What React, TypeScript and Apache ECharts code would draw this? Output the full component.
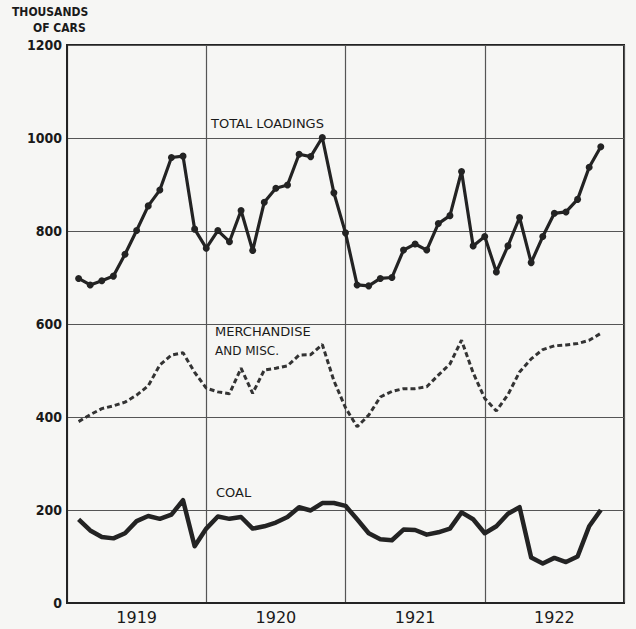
import React, { useEffect, useRef } from "react";
import * as echarts from "echarts";

const months: string[] = [
  "1919-01","1919-02","1919-03","1919-04","1919-05","1919-06","1919-07","1919-08","1919-09","1919-10","1919-11","1919-12",
  "1920-01","1920-02","1920-03","1920-04","1920-05","1920-06","1920-07","1920-08","1920-09","1920-10","1920-11","1920-12",
  "1921-01","1921-02","1921-03","1921-04","1921-05","1921-06","1921-07","1921-08","1921-09","1921-10","1921-11","1921-12",
  "1922-01","1922-02","1922-03","1922-04","1922-05","1922-06","1922-07","1922-08","1922-09","1922-10",
];

const totalLoadings: number[] = [
  698, 684, 693, 703, 750, 801, 854, 888, 958, 961,
  804, 763, 801, 777, 844, 758, 862, 892, 899, 965,
  960, 1001, 882, 796, 684, 682, 698, 700, 759, 772,
  759, 816, 833, 928, 768, 788, 712, 768, 829, 732,
  788, 838, 841, 868, 937, 981,
];

const merchandise: number[] = [
  390, 405, 418, 424, 432, 447, 467, 512, 533, 538,
  496, 462, 454, 450, 505, 451, 501, 505, 510, 533,
  534, 556, 478, 420, 379, 404, 443, 455, 461, 461,
  465, 490, 514, 565, 495, 440, 413, 448, 497, 525,
  545, 553, 555, 558, 565, 580,
];

const coal: number[] = [
  180, 156, 142, 139, 150, 176, 187, 181, 190, 221,
  122, 160, 186, 181, 185, 160, 165, 173, 185, 206,
  199, 215, 215, 209, 180, 150, 137, 135, 158, 157,
  147, 152, 160, 195, 180, 150, 165, 192, 206, 98,
  85, 97, 88, 100, 165, 200,
];

const yearLabels: string[] = ["1919", "1920", "1921", "1922"];
const yTicks = { min: 0, max: 1200, interval: 200 };

const INK = "#232323";
const GRID = "#555";

function toPairs(values: number[]): [number, number][] {
  return values.map((v, i) => [months.indexOf(months[i]) + 1, v]);
}

export default function App() {
  const ref = useRef<HTMLDivElement>(null);
  useEffect(() => {
    if (!ref.current) return;
    const chart = echarts.init(ref.current, undefined, { renderer: "svg" });
    const labelFont = "'DejaVu Sans', sans-serif";
    chart.setOption({
      animation: false,
      backgroundColor: "#f6f6f4",
      grid: {
        left: 67,
        right: 12,
        top: 45,
        bottom: 26,
        show: true,
        borderColor: INK,
        borderWidth: 2,
        backgroundColor: "transparent",
      },
      xAxis: [
        {
          type: "value",
          min: 0,
          max: 48,
          interval: 12,
          position: "bottom",
          axisLine: { show: true, lineStyle: { color: INK, width: 2 } },
          axisTick: { show: false },
          axisLabel: { show: false },
          splitLine: { show: true, lineStyle: { color: GRID, width: 1.2 } },
        },
        {
          type: "value",
          min: 0,
          max: 48,
          interval: 6,
          position: "bottom",
          axisLine: { show: false },
          axisTick: { show: false },
          splitLine: { show: false },
          axisLabel: {
            show: true,
            margin: 6,
            color: "#1a1a1a",
            fontFamily: labelFont,
            fontSize: 16,
            formatter: (v: number) => (v % 12 === 6 ? yearLabels[(v - 6) / 12] ?? "" : ""),
          },
        },
      ],
      yAxis: {
        type: "value",
        min: yTicks.min,
        max: yTicks.max,
        interval: yTicks.interval,
        axisLine: { show: true, lineStyle: { color: INK, width: 2 } },
        axisTick: { show: false },
        axisLabel: {
          margin: 5,
          color: "#1a1a1a",
          fontFamily: "'DejaVu Sans Condensed', 'DejaVu Sans', sans-serif",
          fontWeight: "bold",
          fontSize: 14,
          formatter: (v: number) => String(v),
        },
        splitLine: { show: true, lineStyle: { color: GRID, width: 1.2 } },
      },
      graphic: [
        {
          type: "text",
          left: 12,
          top: 6,
          style: {
            text: "THOUSANDS",
            fill: "#1a1a1a",
            font: "bold 12px 'DejaVu Sans Condensed', 'DejaVu Sans', sans-serif",
          },
        },
        {
          type: "text",
          left: 33,
          top: 22,
          style: {
            text: "OF CARS",
            fill: "#1a1a1a",
            font: "bold 12px 'DejaVu Sans Condensed', 'DejaVu Sans', sans-serif",
          },
        },
        {
          type: "text",
          left: 211,
          top: 117,
          style: { text: "TOTAL LOADINGS", fill: "#1a1a1a", font: "13px 'DejaVu Sans', sans-serif" },
        },
        {
          type: "text",
          left: 215,
          top: 325,
          style: { text: "MERCHANDISE", fill: "#1a1a1a", font: "13px 'DejaVu Sans', sans-serif" },
        },
        {
          type: "text",
          left: 215,
          top: 345,
          style: { text: "AND MISC.", fill: "#1a1a1a", font: "12px 'DejaVu Sans', sans-serif" },
        },
        {
          type: "text",
          left: 216,
          top: 486,
          style: { text: "COAL", fill: "#1a1a1a", font: "13px 'DejaVu Sans', sans-serif" },
        },
      ],
      series: [
        {
          name: "Total loadings",
          type: "line",
          xAxisIndex: 0,
          data: toPairs(totalLoadings),
          symbol: "circle",
          symbolSize: 7,
          itemStyle: { color: INK },
          lineStyle: { color: INK, width: 3.2 },
          z: 5,
        },
        {
          name: "Merchandise and misc.",
          type: "line",
          xAxisIndex: 0,
          data: toPairs(merchandise),
          symbol: "none",
          lineStyle: { color: "#333", width: 3, type: [5, 3], cap: "butt" },
          z: 4,
        },
        {
          name: "Coal",
          type: "line",
          xAxisIndex: 0,
          data: toPairs(coal),
          symbol: "none",
          lineStyle: { color: INK, width: 4.5, join: "round" },
          z: 4,
        },
      ],
    });
    return () => chart.dispose();
  }, []);
  return (
    <div
      ref={ref}
      style={{ position: "fixed", left: 0, top: 0, width: 636, height: 629 }}
    />
  );
}
